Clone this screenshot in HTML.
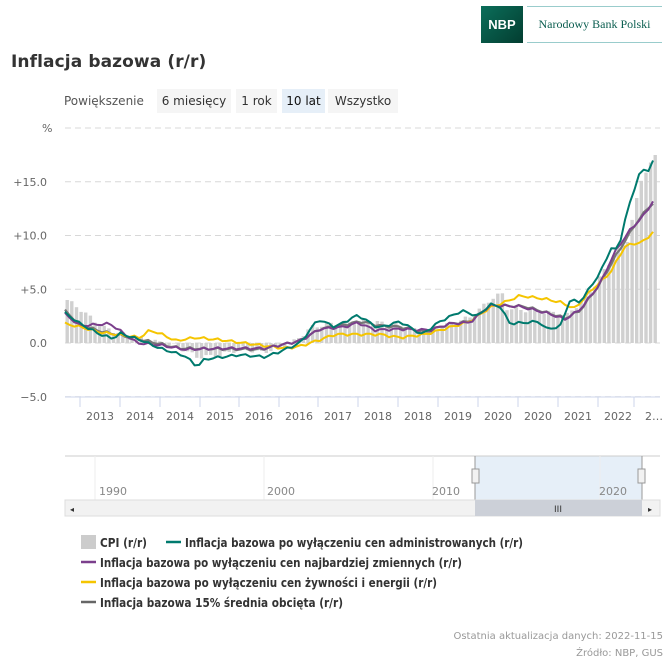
<!DOCTYPE html>
<html><head><meta charset="utf-8"><style>
body{margin:0;width:670px;height:670px;background:#fff;font-family:"DejaVu Sans","Liberation Sans",sans-serif;overflow:hidden;position:relative}
.a{position:absolute;white-space:nowrap}
</style></head><body>
<div class="a" style="left:481px;top:6px;width:42px;height:37px;background:linear-gradient(135deg,#0b6e5a,#033d30);color:#fff;font:bold 13px 'Liberation Sans',sans-serif;line-height:37px;text-align:center">NBP</div>
<div class="a" style="left:527px;top:6px;width:135px;height:37px;border-top:1px solid #9cc;border-bottom:1px solid #9cc;box-sizing:border-box;color:#0b5e50;font:12px 'Liberation Serif',serif;line-height:35px;text-align:center">Narodowy Bank Polski</div>
<div class="a" style="left:11px;top:52px;font-size:17px;font-weight:bold;color:#333;letter-spacing:0.1px">Inflacja bazowa (r/r)</div>
<div class="a" style="left:64px;top:94px;font-size:12px;color:#555">Powiększenie</div>
<div class="a" style="left:157px;top:89px;width:74px;height:24px;background:#f5f5f5;font-size:12px;color:#333;line-height:24px;text-align:center">6 miesięcy</div>
<div class="a" style="left:236px;top:89px;width:41px;height:24px;background:#f5f5f5;font-size:12px;color:#333;line-height:24px;text-align:center">1 rok</div>
<div class="a" style="left:282px;top:89px;width:43px;height:24px;background:#e6eff8;font-size:12px;color:#111;line-height:24px;text-align:center">10 lat</div>
<div class="a" style="left:328px;top:89px;width:70px;height:24px;background:#f5f5f5;font-size:12px;color:#333;line-height:24px;text-align:center">Wszystko</div>
<svg id="s" class="a" style="left:0;top:0" width="670" height="670"></svg>
<div class="a" style="right:7px;top:631px;font-size:10px;color:#999">Ostatnia aktualizacja danych: 2022-11-15</div>
<div class="a" style="right:7px;top:648px;font-size:10px;color:#999">Źródło: NBP, GUS</div>
<script>
var s=document.getElementById('s'),h='';
function Y(v){return 343-v*10.75;}
function interp(k,x){for(var i=1;i<k.length;i++){if(x<=k[i][0]){var a=k[i-1],b=k[i];return a[1]+(b[1]-a[1])*(x-a[0])/(b[0]-a[0]);}}return k[k.length-1][1];}
[20,15,10,5,0,-5].forEach(function(v){h+='<line x1="65" x2="660" y1="'+Y(v)+'" y2="'+Y(v)+'" stroke="#d8d8d8" stroke-dasharray="6,4"/>';});
var lab={20:'%',15:'+15.0',10:'+10.0',5:'+5.0',0:'0.0','-5':'\u22125.0'};
for(var v in lab){h+='<text x="'+(v==20?42:47)+'" y="'+(Y(+v)+4)+'" text-anchor="'+(v==20?'start':'end')+'" font-size="11" fill="#666" font-family="DejaVu Sans">'+lab[v]+'</text>';}
h+='<line x1="65" x2="660" y1="397" y2="397" stroke="#ccd6eb"/>';
var tl=['2013','2014','2014','2015','2016','2016','2017','2018','2018','2019','2020','2020','2021','2022','2…'];
var tx=[100,140,180,220,259,299,338,378,418,458,498,538,578,618,654];
for(var i=0;i<tx.length;i++){var t=tx[i]-20;h+='<line x1="'+t+'" x2="'+t+'" y1="397" y2="407" stroke="#ccd6eb"/>';h+='<text x="'+tx[i]+'" y="420" text-anchor="middle" font-size="11" fill="#666" font-family="DejaVu Sans">'+tl[i]+'</text>';}
var cpi=[[65,4.0],[80,3.0],[100,1.5],[130,0.5],[145,0.3],[175,-0.3],[195,-1.3],[215,-1.2],[240,-0.5],[260,-0.9],[290,0],[310,1.5],[330,1.8],[360,2.0],[390,1.8],[420,1.0],[450,1.8],[470,2.5],[490,4.2],[500,4.6],[505,3.2],[530,3.0],[550,2.8],[565,2.6],[575,3.5],[590,5],[615,8.6],[625,9.5],[640,15.5],[657,17.9]];
for(var i=0;i<128;i++){var x=65+i*4.63,v=interp(cpi,x)+Math.sin(i*1.7)*0.2,y=Y(v),y0=Y(0);h+='<rect x="'+(x+0.5).toFixed(1)+'" y="'+Math.min(y,y0).toFixed(1)+'" width="3.4" height="'+Math.abs(y-y0).toFixed(1)+'" fill="#d0d0d0"/>';}
function line(k,c,w){var p='';for(var x=65;x<=657;x+=4.63){var v=interp(k,x)+Math.sin(x*0.9)*0.12;p+=(p?'L':'M')+x.toFixed(1)+','+Y(v).toFixed(1);}h+='<path d="'+p+'" fill="none" stroke="'+c+'" stroke-width="'+w+'" stroke-linejoin="round"/>';}
line([[65,3.0],[80,1.7],[100,1.1],[137,0.4],[180,-0.5],[260,-0.6],[300,0.2],[320,1.3],[350,1.8],[360,2.0],[380,1.6],[400,1.5],[425,1.0],[450,1.8],[470,2.0],[490,3.5],[525,3.4],[555,2.6],[565,2.3],[580,3.0],[600,5.5],[615,8.0],[635,11],[650,12.8],[657,13.2]],'#777',2.2);
line([[65,1.8],[80,1.5],[100,1.0],[140,0.5],[150,1.2],[165,0.7],[175,0.2],[195,0.5],[220,0.3],[260,-0.2],[285,-0.5],[300,-0.3],[320,0.3],[335,0.8],[380,0.8],[400,0.5],[425,0.8],[440,1.2],[470,2.0],[490,3.3],[505,3.8],[520,4.4],[545,4.1],[560,3.8],[575,3.2],[590,4.8],[610,6.5],[625,9.0],[645,9.5],[657,10.8]],'#f5c500',2);
line([[65,2.7],[80,1.6],[110,1.8],[137,0],[160,-0.2],[185,-0.6],[220,-0.5],[265,-0.5],[300,0.2],[320,1.3],[345,1.5],[358,1.9],[375,1.2],[400,1.3],[430,1.2],[450,1.8],[470,1.9],[490,3.5],[520,3.4],[550,2.7],[565,2.2],[580,3.1],[600,5.5],[615,8.5],[630,10.5],[645,12],[657,13.8]],'#7b3f8c',2);
line([[65,2.8],[80,1.8],[100,0.8],[113,0.4],[120,0.9],[140,0.3],[160,-0.5],[185,-1.2],[197,-2.2],[205,-1.5],[240,-1.1],[265,-1.3],[280,-0.8],[300,0],[318,2.2],[335,1.5],[358,2.6],[378,1.4],[400,2.0],[422,0.8],[440,2.0],[462,3.0],[478,2.5],[490,3.6],[500,3.4],[510,1.8],[540,2.0],[545,1.3],[560,1.5],[570,4.0],[580,3.8],[600,6.5],[612,9.0],[618,8.5],[625,11.5],[640,16],[648,16],[657,17.8]],'#007a6e',2);
h+='<rect x="475" y="456" width="167" height="44" fill="#e6eff8"/>';
h+='<line x1="65" x2="660" y1="456" y2="456" stroke="#ccc"/>';
[95,264,433,600].forEach(function(x){h+='<line x1="'+x+'" x2="'+x+'" y1="456" y2="500" stroke="#eee"/>';});
[[99,'1990'],[267,'2000'],[432,'2010'],[599,'2020']].forEach(function(a){h+='<text x="'+a[0]+'" y="495" font-size="11" fill="#888" font-family="DejaVu Sans">'+a[1]+'</text>';});
h+='<line x1="475" x2="475" y1="456" y2="500" stroke="#999"/><line x1="642" x2="642" y1="456" y2="500" stroke="#999"/>';
h+='<rect x="472" y="469" width="7" height="14" fill="#f2f2f2" stroke="#999"/><rect x="638" y="469" width="7" height="14" fill="#f2f2f2" stroke="#999"/>';
h+='<rect x="65" y="500" width="595" height="16" fill="#f2f2f2" stroke="#ddd"/>';
h+='<rect x="475" y="500" width="167" height="16" fill="#ccd0d8"/>';
h+='<text x="558" y="512" font-size="9" fill="#333" text-anchor="middle">III</text>';
h+='<text x="70" y="512" font-size="8" fill="#333">◂</text><text x="648" y="512" font-size="8" fill="#333">▸</text>';
// legend
h+='<rect x="81" y="535" width="15" height="14" fill="#ccc"/>';
function lt(x,y,w,t){h+='<text x="'+x+'" y="'+y+'" font-size="12" font-weight="bold" fill="#333" font-family="DejaVu Sans" textLength="'+w+'" lengthAdjust="spacingAndGlyphs">'+t+'</text>';}
function lm(x,y,c){h+='<line x1="'+x+'" x2="'+(x+15)+'" y1="'+y+'" y2="'+y+'" stroke="'+c+'" stroke-width="2.5"/>';}
lt(100,547,47,'CPI (r/r)');
lm(166,542,'#007a6e');lt(185,547,338,'Inflacja bazowa po wyłączeniu cen administrowanych (r/r)');
lm(81,562,'#7b3f8c');lt(100,567,362,'Inflacja bazowa po wyłączeniu cen najbardziej zmiennych (r/r)');
lm(81,582,'#f5c500');lt(100,587,337,'Inflacja bazowa po wyłączeniu cen żywności i energii (r/r)');
lm(81,602,'#666');lt(100,607,243,'Inflacja bazowa 15% średnia obcięta (r/r)');
s.innerHTML=h;
</script>
</body></html>
